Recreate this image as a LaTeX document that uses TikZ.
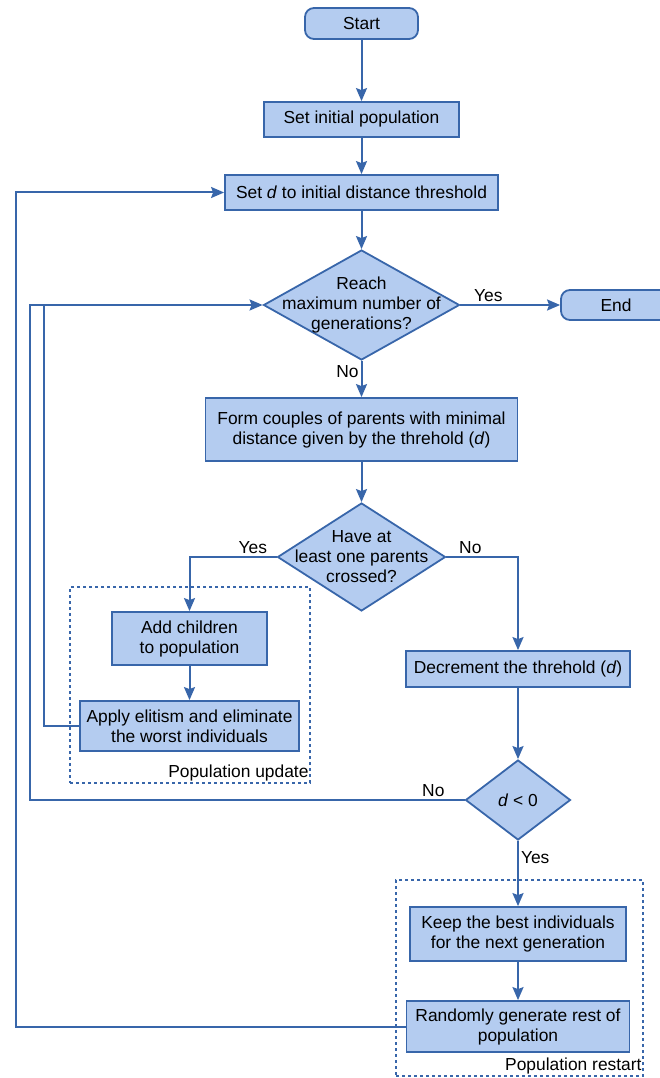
\documentclass[tikz,border=0pt]{standalone}
\usepackage{fontspec}
\setmainfont{Liberation Sans}
\usetikzlibrary{arrows.meta, shapes.geometric}
\definecolor{boxblue}{RGB}{180,204,240}
\definecolor{lineblue}{RGB}{56,102,170}
\tikzset{
    box/.style={draw=lineblue, line width=1.8pt, fill=boxblue, align=center,
        inner sep=0pt},
    term/.style={box, rounded corners=9pt},
    decision/.style={diamond, draw=lineblue, line width=1.8pt, fill=boxblue,
        inner sep=0pt},
    grp/.style={draw=lineblue, line width=1.5pt, dash pattern=on 3pt off 3pt,
        inner sep=0pt},
    flow/.style={-{Stealth[length=13pt, width=11pt, inset=2pt]}, draw=lineblue,
        line width=2pt},
    link/.style={draw=lineblue, line width=2pt},
    lbl/.style={inner sep=2pt},
}

\begin{document}
\begin{tikzpicture}[x=1pt, y=-1pt, font=\fontsize{17.4}{20}\selectfont]
        \clip (0,0) rectangle (660,1078);

        % Groups
        \node[grp, minimum width=240pt, minimum height=196pt] (updgrp) at (190,685) {};
        \node[lbl, anchor=south east] (updlbl) at (updgrp.south east) {Population update};
        \node[grp, minimum width=247pt, minimum height=196pt] (rstgrp) at (519.5,978) {};
        \node[lbl, anchor=south east] (rstlbl) at (rstgrp.south east) {Population restart};

        % Main column
        \node[term, minimum width=113pt, minimum height=31pt] (start) at (361.5,23.5) {Start};
        \node[box, minimum width=195pt, minimum height=35pt] (init) at (361.5,119.5) {Set initial population};
        \node[box, minimum width=273pt, minimum height=35pt] (setd) at (361.5,192.5) {Set \textit{d} to initial distance threshold};
        \node[decision, minimum width=196pt, minimum height=110pt,
            label={[align=center]center:{Reach\\maximum number of\\generations?}}] (maxgen) at (361.5,305) {};
        \node[term, minimum width=110pt, minimum height=30pt] (finish) at (616,305) {End};
        \node[box, minimum width=312pt, minimum height=63pt] (couples) at (361.5,429.5) {Form couples of parents with minimal\\
            distance given by the threhold (\textit{d})};
        \node[decision, minimum width=168pt, minimum height=108pt,
            label={[align=center]center:{Have at\\least one parents\\crossed?}}] (crossed) at (361.5,557) {};

        % Left branch
        \node[box, minimum width=155pt, minimum height=53pt] (addch) at (189.5,638.5) {Add children\\to population};
        \node[box, minimum width=219pt, minimum height=50pt] (elit) at (189.5,726) {Apply elitism and eliminate\\the worst individuals};

        % Right branch
        \node[box, minimum width=224pt, minimum height=36pt] (decr) at (518,669) {Decrement the threhold (\textit{d})};
        \node[decision, minimum width=105pt, minimum height=80pt,
            label={center:{\textit{d} < 0}}] (dneg) at (518,800) {};
        \node[box, minimum width=216pt, minimum height=54pt] (keep) at (518,934) {Keep the best individuals\\for the next generation};
        \node[box, minimum width=223pt, minimum height=51pt] (rand) at (518,1026.5) {Randomly generate rest of\\population};

        % Loop corners
        \coordinate (jmax) at (30,305);
        \coordinate (jelit) at (44,305);
        \coordinate (jrst) at (16,192.5);

        % Connectors
        \draw[flow] (start) -- (init);
        \draw[flow] (init) -- (setd);
        \draw[flow] (setd) -- (maxgen);
        \draw[flow] (maxgen) -- node[lbl, above, pos=0.28] {Yes} (finish);
        \draw[flow] (maxgen) -- node[lbl, left, pos=0.29] {No} (couples);
        \draw[flow] (couples) -- (crossed);
        \draw[flow] (crossed.west) -| node[lbl, above, pos=0.136] {Yes} (addch.north);
        \draw[flow] (crossed.east) -| node[lbl, above, pos=0.167] {No} (decr.north);
        \draw[flow] (addch) -- (elit);
        \draw[flow] (decr) -- (dneg);
        \draw[flow] (dneg) -- node[lbl, right, pos=0.25] {Yes} (keep);
        \draw[flow] (keep) -- (rand);

        \draw[flow] (dneg.west) -| node[lbl, above, pos=0.036] {No} (jmax) -- (maxgen.west);
        \draw[link] (elit.west) -| (jelit);
        \draw[flow] (rand.west) -| (jrst) -- (setd.west);
    \end{tikzpicture}
\end{document}
